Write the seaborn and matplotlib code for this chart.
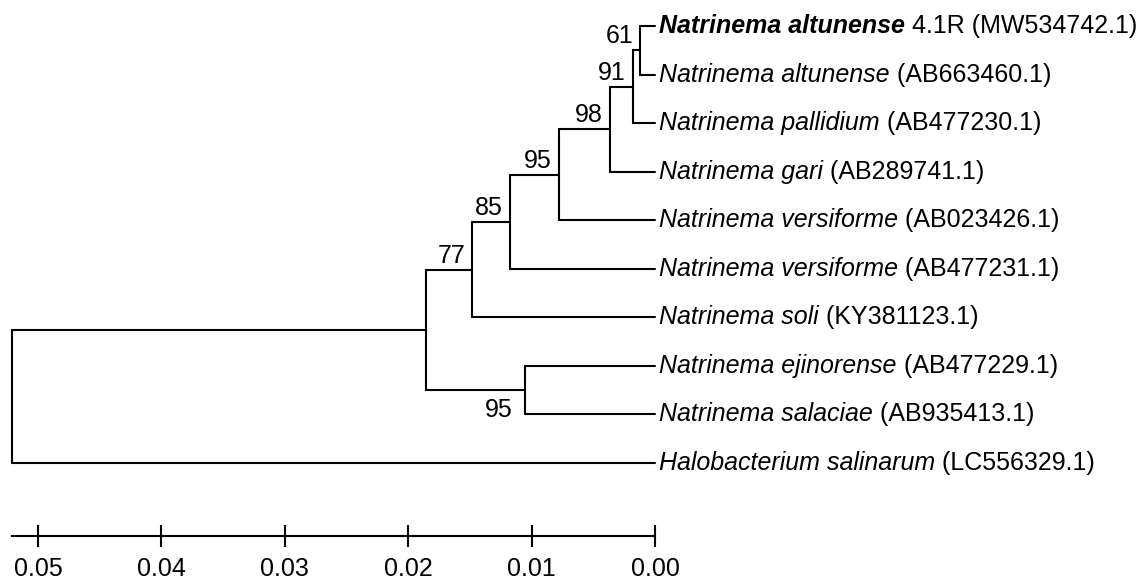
import numpy as np
import pandas as pd
import matplotlib
matplotlib.use("Agg")
import matplotlib.pyplot as plt
import seaborn as sns

# ---------------- data ----------------
tip_names = ["Natrinema altunense", "Natrinema altunense", "Natrinema pallidium",
             "Natrinema gari", "Natrinema versiforme", "Natrinema versiforme",
             "Natrinema soli", "Natrinema ejinorense", "Natrinema salaciae",
             "Halobacterium salinarum"]
tip_suffix = ["4.1R (MW534742.1)", "(AB663460.1)", "(AB477230.1)", "(AB289741.1)",
              "(AB023426.1)", "(AB477231.1)", "(KY381123.1)", "(AB477229.1)",
              "(AB935413.1)", "(LC556329.1)"]
tip_bold = [True, False, False, False, False, False, False, False, False, False]

node_ids = ["n61", "n91", "n98", "n95a", "n85", "n77", "n95b", "nNat", "root"]
node_children = [(0, 1), ("n61", 2), ("n91", 3), ("n98", 4), ("n95a", 5),
                 ("n85", 6), (7, 8), ("n77", "n95b"), ("nNat", 9)]
node_heights = [0.00122, 0.00178, 0.00365, 0.00778, 0.01175, 0.01483,
                0.01053, 0.01856, 0.05211]
node_support = [61, 91, 98, 95, 85, 77, 95, None, None]
support_below = [False, False, False, False, False, False, True, False, False]

scale_ticks = [0.05, 0.04, 0.03, 0.02, 0.01, 0.00]

# ---------------- layout ----------------
sns.set_theme(style="white")
plt.rcParams["font.family"] = ["Liberation Sans", "DejaVu Sans"]

pos = {i: (0.0, float(i)) for i in range(len(tip_names))}
segs = []
seg_id = 0
for nid, ch, h in zip(node_ids, node_children, node_heights):
    ys = [pos[c][1] for c in ch]
    y = float(np.mean(ys))
    pos[nid] = (h, y)
    segs.append(pd.DataFrame({"seg": seg_id, "x": [h, h], "y": [min(ys), max(ys)]}))
    seg_id += 1
    for c in ch:
        cx, cy = pos[c]
        segs.append(pd.DataFrame({"seg": seg_id, "x": [h, cx], "y": [cy, cy]}))
        seg_id += 1
df = pd.concat(segs, ignore_index=True)

fig = plt.figure(figsize=(11.47, 5.85), dpi=100)
ax = fig.add_axes([0, 0, 1, 1])
sns.lineplot(data=df, x="x", y="y", units="seg", estimator=None, sort=False,
             color="black", lw=1.5, ax=ax, legend=False)

ax.set_xlim(0.05308, -0.03987)
ax.set_ylim(11.514, -0.5355)
ax.set_xlabel("")
ax.set_ylabel("")
ax.set_yticks([])

FS = 18
# tip labels
for i, (nm, sf, b) in enumerate(zip(tip_names, tip_suffix, tip_bold)):
    t1 = ax.annotate(nm, xy=(0, i), xytext=(3, 0), textcoords="offset points",
                     ha="left", va="center", fontsize=FS, fontstyle="italic",
                     fontweight="bold" if b else "normal", color="black")
    ax.annotate(" " + sf, xy=(1, 0), xycoords=t1, ha="left", va="bottom",
                fontsize=FS, color="black")

# bootstrap values
for nid, s, below in zip(node_ids, node_support, support_below):
    if s is None:
        continue
    h, y = pos[nid]
    if below:
        ax.annotate(str(s), xy=(h, y), xytext=(-9, -19), textcoords="offset points",
                    ha="right", va="baseline", fontsize=FS, color="black")
    else:
        ax.annotate(str(s), xy=(h, y), xytext=(-5, 5), textcoords="offset points",
                    ha="right", va="baseline", fontsize=FS, color="black")

# scale axis
for sp in ["top", "right", "left"]:
    ax.spines[sp].set_visible(False)
ax.spines["bottom"].set_position(("data", 10.5))
ax.spines["bottom"].set_bounds(0.0, node_heights[-1])
ax.spines["bottom"].set_color("black")
ax.spines["bottom"].set_linewidth(1.5)
ax.set_xticks(scale_ticks)
ax.set_xticklabels([f"{v:.2f}" for v in scale_ticks])
ax.tick_params(axis="x", direction="inout", length=16, width=1.5, labelsize=FS,
               pad=7, colors="black", bottom=True)
ax.set_facecolor("white")
fig.patch.set_facecolor("white")

fig.savefig("out.png", dpi=100)
